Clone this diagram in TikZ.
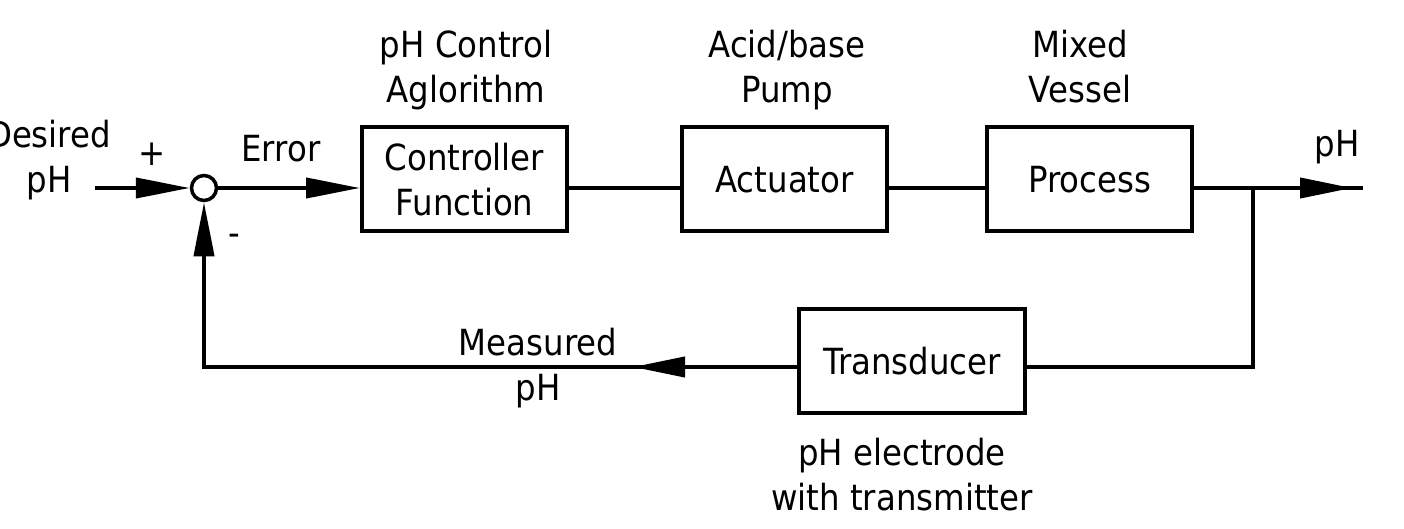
\documentclass[tikz,border=0pt]{standalone}
\usepackage{fontspec}
\setmainfont{DejaVu Sans}[FakeStretch=0.9]
\usepackage{tikz}
\usetikzlibrary{positioning}
\usetikzlibrary{arrows.meta,decorations.markings}
\usetikzlibrary{calc}

\begin{document}
\begin{tikzpicture}[x=1pt, y=-1pt,
  font=\fontsize{36}{45}\selectfont,
  box/.style={draw, line width=4pt, minimum width=205pt, minimum height=104pt, inner sep=0pt, align=center, text depth=0pt},
  lbl/.style={inner sep=0pt, align=center},
  sig/.style={line width=4pt},
  tip/.style={-{Triangle[length=54pt,width=20pt]}},
  midtip/.style={postaction={decorate}, decoration={markings,
    mark=at position #1 with {\arrow{Triangle[length=52pt,width=20pt]}}}}]

\useasboundingbox (0,0) rectangle (1404,529);

% blocks
\node[box] (ctrl) at (464.5,179) {Controller\\Function};
\node[box] (act) at (784.5,179) {Actuator};
\node[box] (proc) at (1089.5,179) {Process};
\node[box, minimum width=226pt] (trans) at (912,361) {Transducer};
\node[draw, circle, line width=3.5pt, minimum size=25pt, inner sep=0pt] (sum) at (204,188) {};

\coordinate (in) at (95,188);
\coordinate (out) at (1363,188);
\coordinate (br) at (1253,188);
\coordinate (fb) at (204,367);

% forward path
\draw[sig, tip] (in) -- (sum.west);
\draw[sig, tip] (sum.east) -- (ctrl.west |- sum);
\draw[sig] (ctrl.east |- sum) -- (act.west |- sum);
\draw[sig] (act.east |- sum) -- (proc.west |- sum);
\draw[sig, midtip=158pt] (proc.east |- sum) -- (out);

% feedback path
\draw[sig] (br) |- (trans.east |- fb);
\draw[sig, tip, midtip=164pt] (trans.west |- fb) -- (fb) -- (sum.south);

% labels
\node[lbl, anchor=north] (ctrltxt) at (466,30) {pH Control\\Aglorithm};
\node[lbl, anchor=north] (acttxt) at (787,30) {Acid/base\\Pump};
\node[lbl, anchor=north] (proctxt) at (1080,30) {Mixed\\Vessel};
\node[lbl, anchor=north] (desired) at (49,120) {Desired\\pH};
\node[lbl] (plus) at (152,154) {+};
\node[lbl, anchor=base] (err) at (281,162) {Error};
\node[lbl, anchor=base] (minus) at (234,245) {-};
\node[lbl, anchor=base] (outtxt) at (1337,157) {pH};
\node[lbl, anchor=north] (meas) at (538,328) {Measured\\pH};
\node[lbl, anchor=north] (elec) at (902,438) {pH electrode\\with transmitter};

\end{tikzpicture}
\end{document}
